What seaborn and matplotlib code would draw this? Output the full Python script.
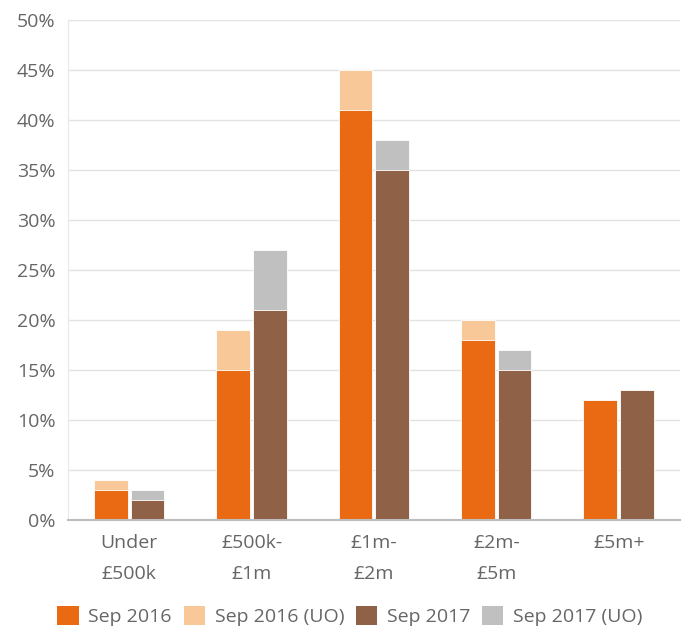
import pandas as pd
import matplotlib.pyplot as plt
import seaborn as sns
from matplotlib.patches import Patch
from matplotlib.ticker import FuncFormatter

# --- dados ---
categorias = ['Under\n£500k', '£500k-\n£1m', '£1m-\n£2m', '£2m-\n£5m', '£5m+']
sep2016 = [3, 15, 41, 18, 12]
sep2016_uo = [1, 4, 4, 2, 0]
sep2017 = [2, 21, 35, 15, 13]
sep2017_uo = [1, 6, 3, 2, 0]

cor_2016 = '#E96A12'
cor_2016_uo = '#F9C899'
cor_2017 = '#8F6146'
cor_2017_uo = '#C0C0C0'

df = pd.DataFrame({
    'cat': categorias * 2,
    'ano': ['Sep 2016'] * 5 + ['Sep 2017'] * 5,
    'base': sep2016 + sep2017,
    'uo': sep2016_uo + sep2017_uo,
})
df['total'] = df['base'] + df['uo']

sns.set_style("white")
plt.rcParams['font.family'] = ['Open Sans', 'DejaVu Sans']

fig, ax = plt.subplots(figsize=(6.86, 6.31), dpi=100)
fig.subplots_adjust(left=0.099, right=0.991, top=0.968, bottom=0.176)

# barras "total" (com UO) por baixo, base por cima
sns.barplot(data=df, x='cat', y='total', hue='ano', palette=[cor_2016_uo, cor_2017_uo],
            width=0.6, gap=0.08, saturation=1, edgecolor='white', linewidth=0.6,
            legend=False, ax=ax, errorbar=None)
sns.barplot(data=df, x='cat', y='base', hue='ano', palette=[cor_2016, cor_2017],
            width=0.6, gap=0.08, saturation=1, edgecolor='white', linewidth=0.6,
            legend=False, ax=ax, errorbar=None)

ax.set_ylim(0, 50)
ax.set_yticks(range(0, 51, 5))
ax.yaxis.set_major_formatter(FuncFormatter(lambda v, p: f'{v:.0f}%'))
ax.set_xlabel('')
ax.set_ylabel('')
ax.set_axisbelow(True)
ax.grid(axis='y', color='#E3E3E3', linewidth=1)

for s in ['top', 'right']:
    ax.spines[s].set_visible(False)
ax.spines['left'].set_color('#E8E8E8')
ax.spines['bottom'].set_color('#BDBDBD')
ax.spines['bottom'].set_linewidth(1.5)

ax.tick_params(axis='both', length=0, colors='#666666', labelsize=14)
ax.tick_params(axis='x', pad=10)
ax.tick_params(axis='y', pad=9)
for lbl in ax.get_xticklabels():
    lbl.set_linespacing(1.95)
    lbl.set_va('top')

handles = [Patch(facecolor=c, edgecolor='none') for c in [cor_2016, cor_2016_uo, cor_2017, cor_2017_uo]]
labels = ['Sep 2016', 'Sep 2016 (UO)', 'Sep 2017', 'Sep 2017 (UO)']
leg = fig.legend(handles, labels, loc='center', bbox_to_anchor=(0.51, 0.024), ncol=4,
                 frameon=False, fontsize=14, handlelength=1.1, handleheight=1.1,
                 handletextpad=0.5, columnspacing=0.6)
for t in leg.get_texts():
    t.set_color('#666666')

plt.savefig('out.png', dpi=100)
